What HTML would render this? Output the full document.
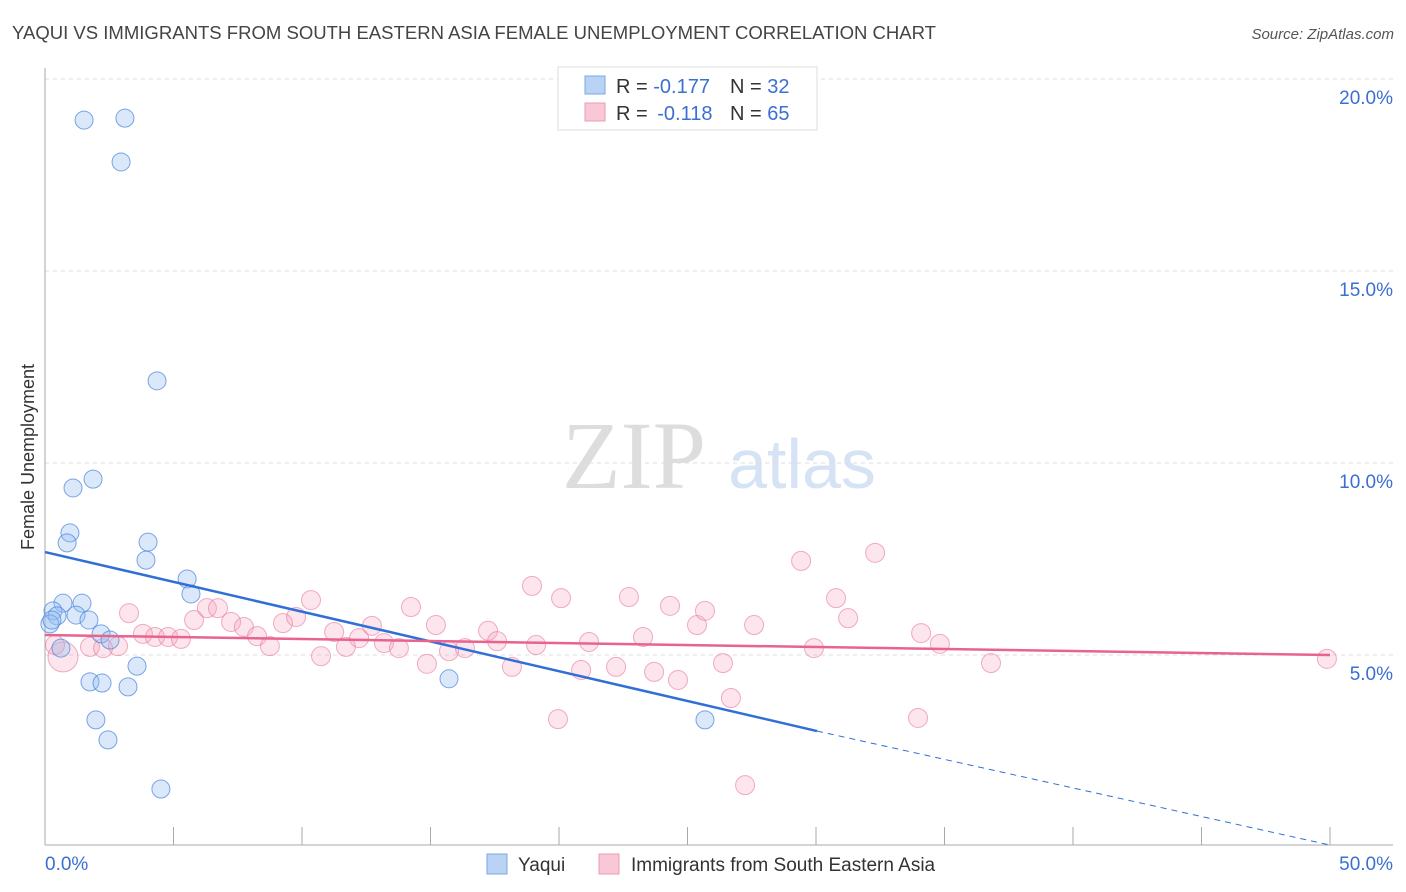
<!DOCTYPE html>
<html><head><meta charset="utf-8"><style>
body{margin:0;background:#fff;font-family:"Liberation Sans",sans-serif;}
svg{display:block}
</style></head><body>
<svg id="chart" width="1406" height="892" xmlns="http://www.w3.org/2000/svg">
<text x="12" y="39" font-size="18" fill="#444" textLength="924" lengthAdjust="spacingAndGlyphs">YAQUI VS IMMIGRANTS FROM SOUTH EASTERN ASIA FEMALE UNEMPLOYMENT CORRELATION CHART</text>
<text x="1394" y="39" font-size="15" fill="#555" text-anchor="end" font-style="italic">Source: ZipAtlas.com</text>
<g>
<text x="634" y="488" font-family="Liberation Serif,serif" font-size="96" fill="#ddd" text-anchor="middle">ZIP</text>
<text x="802" y="488" font-size="70" fill="#d5e3f5" text-anchor="middle">atlas</text>
</g>
<g id="grid"></g>
<g id="axes"></g>
<g id="marks"></g>
<text transform="translate(34,457) rotate(-90)" font-size="18" fill="#333" text-anchor="middle">Female Unemployment</text>
<g>
<rect x="558" y="67" width="259" height="63" fill="#fff" stroke="#ddd"/>
<rect x="585" y="76" width="20" height="18" fill="#b9d3f4" stroke="#7aa7e6"/>
<rect x="585" y="103" width="20" height="18" fill="#f9c8d6" stroke="#ee9ab2"/>
<text x="616" y="93" font-size="20" fill="#333">R = <tspan fill="#3b6fd1">-0.177</tspan></text>
<text x="730" y="93" font-size="20" fill="#333">N = <tspan fill="#3b6fd1">32</tspan></text>
<text x="616" y="120" font-size="20" fill="#333">R = <tspan fill="#3b6fd1" dx="4">-0.118</tspan></text>
<text x="730" y="120" font-size="20" fill="#333">N = <tspan fill="#3b6fd1">65</tspan></text>
</g>
<g>
<rect x="487" y="854" width="20" height="20" fill="#b9d3f4" stroke="#7aa7e6"/>
<text x="518" y="871" font-size="19" fill="#333">Yaqui</text>
<rect x="599" y="854" width="20" height="20" fill="#f9c8d6" stroke="#ee9ab2"/>
<text x="631" y="871" font-size="19" fill="#333">Immigrants from South Eastern Asia</text>
</g>
</svg>
<script>
const yaquiX=[1.52,3.11,2.96,4.36,1.87,1.09,0.97,0.86,4.01,3.93,5.53,5.68,0.70,1.44,0.31,0.47,1.21,1.71,0.19,2.18,2.53,0.62,3.58,1.75,2.22,3.23,15.72,1.98,2.45,25.68,4.51,0.27];
const yaquiY=[18.93,18.98,17.84,12.14,9.58,9.35,8.18,7.92,7.94,7.47,6.98,6.59,6.35,6.35,6.15,6.02,6.04,5.91,5.81,5.55,5.39,5.18,4.71,4.30,4.27,4.17,4.38,3.31,2.79,3.31,1.51,5.91];
const immX=[0.70,0.39,1.75,2.26,2.84,3.27,3.81,4.28,4.79,5.29,5.80,6.30,6.73,7.24,7.74,8.25,8.75,9.26,9.77,10.35,10.74,11.25,11.71,12.22,12.72,13.19,13.77,14.24,14.86,15.21,15.72,16.34,17.24,17.59,18.17,18.95,19.11,19.96,20.08,20.86,21.17,22.22,22.72,23.27,23.70,24.32,24.63,25.37,25.68,26.38,26.69,27.24,27.59,29.42,29.92,30.78,31.25,32.30,33.97,34.09,34.82,36.81,49.88];
const immY=[4.95,5.26,5.21,5.18,5.23,6.09,5.55,5.47,5.47,5.42,5.91,6.22,6.22,5.86,5.73,5.49,5.23,5.83,5.99,6.43,4.97,5.60,5.21,5.44,5.76,5.31,5.18,6.25,4.77,5.78,5.10,5.18,5.63,5.36,4.69,6.80,5.26,3.33,6.48,4.61,5.34,4.69,6.51,5.47,4.56,6.28,4.35,5.78,6.15,4.79,3.88,1.61,5.78,7.45,5.18,6.48,5.96,7.66,3.36,5.57,5.29,4.79,4.90];
const yTicks=[5,10,15,20];
const yTickLabels=["5.0%","10.0%","15.0%","20.0%"];
const xTicks=[0,5,10,15,20,25,30,35,40,45,50];
const blueTrend=[7.68,3.02,0.05];
const blueTrendX=[0,30.04,50];
const pinkTrend=[5.52,5.0];
const pinkTrendX=[0,50];

const NS="http://www.w3.org/2000/svg";
const X=v=>45+v*25.7;
const Y=v=>847-v*38.4;
function mk(tag,attrs,parent){const e=document.createElementNS(NS,tag);for(const k in attrs)e.setAttribute(k,attrs[k]);parent.appendChild(e);return e;}
const grid=document.getElementById('grid'),axes=document.getElementById('axes'),marks=document.getElementById('marks');
yTicks.forEach((t,i)=>{
 const l=mk('line',{x1:45,x2:1393,y1:Y(t),y2:Y(t),stroke:'#ddd','stroke-dasharray':'4,4'},grid);
 
 
 const tx=mk('text',{x:1393,y:Y(t)+25,'font-size':19,fill:'#3b6fd1','text-anchor':'end'},axes);
 tx.textContent=yTickLabels[i];
 
 
});
let a=mk('line',{x1:45,x2:45,y1:68,y2:845,stroke:'#aaa'},axes);


a=mk('line',{x1:45,x2:1393,y1:845,y2:845,stroke:'#aaa'},axes);


xTicks.forEach(t=>{if(t===0)return;const l=mk('line',{x1:X(t),x2:X(t),y1:827,y2:845,stroke:'#aaa'},axes);
 
 });
let t0=mk('text',{x:45,y:870,'font-size':19,fill:'#3b6fd1'},axes);t0.textContent='0.0%';


let t1=mk('text',{x:1393,y:870,'font-size':19,fill:'#3b6fd1','text-anchor':'end'},axes);t1.textContent='50.0%';



immX.forEach((x,i)=>{const c=mk('circle',{cx:X(x),cy:Y(immY[i]),r:i===0?15:9.5,fill:'rgba(244,160,186,0.28)',stroke:'rgba(232,120,155,0.6)','stroke-width':1},marks);
 
 });
yaquiX.forEach((x,i)=>{const c=mk('circle',{cx:X(x),cy:Y(yaquiY[i]),r:9,fill:'rgba(150,190,240,0.35)',stroke:'rgba(70,130,220,0.7)','stroke-width':1},marks);
 
 });
let bl=mk('line',{x1:X(blueTrendX[0]),y1:Y(blueTrend[0]),x2:X(blueTrendX[1]),y2:Y(blueTrend[1]),stroke:'#2f6fd6','stroke-width':2.5},marks);


bl=mk('line',{x1:X(blueTrendX[1]),y1:Y(blueTrend[1]),x2:X(blueTrendX[2]),y2:Y(blueTrend[2]),stroke:'#2f6fd6','stroke-width':1,'stroke-dasharray':'6,5'},marks);


let pl=mk('line',{x1:X(pinkTrendX[0]),y1:Y(pinkTrend[0]),x2:X(pinkTrendX[1]),y2:Y(pinkTrend[1]),stroke:'#e8638e','stroke-width':2.5},marks);


</script>
</body></html>
